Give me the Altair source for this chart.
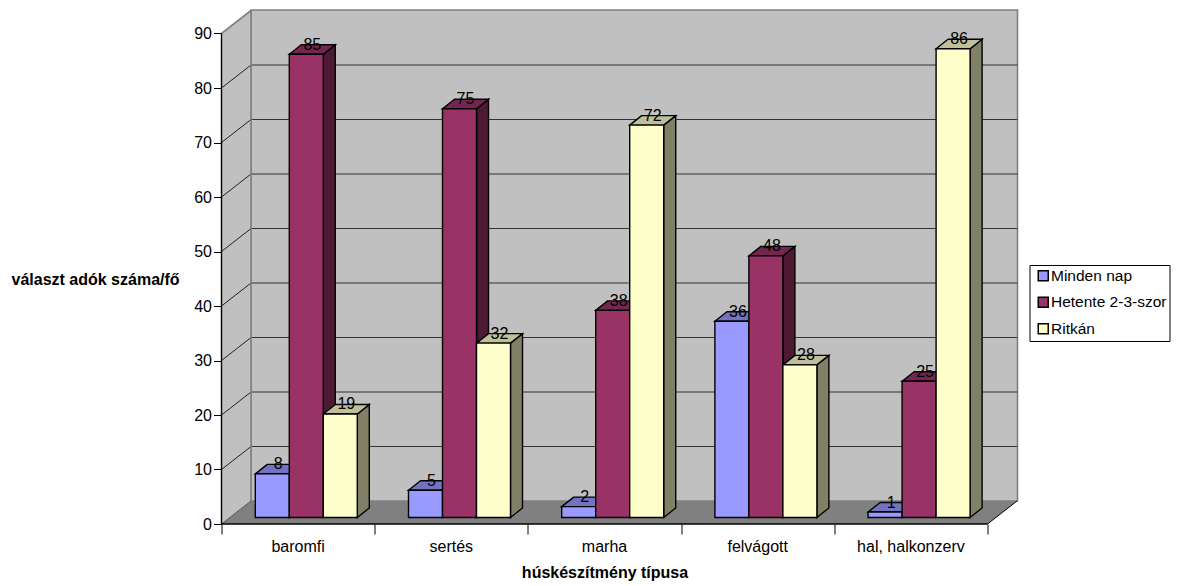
import altair as alt
import pandas as pd

categories = ["baromfi", "sertés", "marha", "felvágott", "hal, halkonzerv"]
series = ["Minden nap", "Hetente 2-3-szor", "Ritkán"]
minden_nap = [8, 5, 2, 36, 1]
hetente = [85, 75, 38, 48, 25]
ritkan = [19, 32, 72, 28, 86]
y_ticks = [0, 10, 20, 30, 40, 50, 60, 70, 80, 90]
front_colors = ["#9999FF", "#993366", "#FFFFCC"]
top_colors = ["#7373BF", "#732650", "#BFBF99"]
side_colors = ["#4D4D80", "#4D1A33", "#808066"]

W, H = 796, 514
PX_Y = 5.45           # pixels per value unit
PX_X = 153.2          # pixels per category
XMAX = W / PX_X
YMAX = H / PX_Y
WALL_DX = 29.5 / PX_X
WALL_DY = 23 / PX_Y
BAR_DX = 12 / PX_X
BAR_DY = 9.5 / PX_Y
BASE_DX = 8.2 / PX_X
BASE_DY = 6.5 / PX_Y
BAR_W = 34 / PX_X
GAP = (1 - 3 * BAR_W) / 2

xs = alt.Scale(domain=[0, XMAX], nice=False, zero=False)
ys = alt.Scale(domain=[0, YMAX], nice=False, zero=False)
X = lambda f="x": alt.X(f"{f}:Q", scale=xs, axis=None)
Y = lambda f="y": alt.Y(f"{f}:Q", scale=ys, axis=None)

fronts, sides, tops, labels = [], [], [], []
bid = 0
for s, (name, vals) in enumerate(zip(series, [minden_nap, hetente, ritkan])):
    for c, v in enumerate(vals):
        x0 = c + BASE_DX + GAP + s * BAR_W
        x1 = x0 + BAR_W
        y0 = BASE_DY
        y1 = BASE_DY + v
        fronts.append(dict(x=x0, x2=x1, y=y0, y2=y1, series=name))
        sides.append(dict(b=bid, x=x1, y=y0, y2=y1, fill=side_colors[s]))
        sides.append(dict(b=bid, x=x1 + BAR_DX, y=y0 + BAR_DY, y2=y1 + BAR_DY, fill=side_colors[s]))
        tops.append(dict(b=bid, y=y1, x=x0, x2=x1, fill=top_colors[s]))
        tops.append(dict(b=bid, y=y1 + BAR_DY, x=x0 + BAR_DX, x2=x1 + BAR_DX, fill=top_colors[s]))
        labels.append(dict(x=x0 + BAR_W / 2 + BAR_DX / 2, y=y1 + BAR_DY, t=str(v)))
        bid += 1

# Walls and floor
back_wall = alt.Chart(pd.DataFrame([dict(x=WALL_DX, x2=XMAX, y=WALL_DY, y2=YMAX)])).mark_rect(
    fill="#C0C0C0", stroke="#808080", strokeWidth=1.6
).encode(x=X(), x2="x2:Q", y=Y(), y2="y2:Q")

left_wall = alt.Chart(pd.DataFrame([
    dict(x=0, y=0, y2=90), dict(x=WALL_DX, y=WALL_DY, y2=90 + WALL_DY)
])).mark_area(fill="#C0C0C0").encode(x=X(), y=Y(), y2="y2:Q")

floor = alt.Chart(pd.DataFrame([
    dict(y=0, x=0, x2=5), dict(y=WALL_DY, x=WALL_DX, x2=5 + WALL_DX)
])).mark_area(orient="horizontal", fill="#808080").encode(y=Y(), x=X(), x2="x2:Q")

grid_back = alt.Chart(pd.DataFrame([
    dict(x=WALL_DX, x2=XMAX, y=v + WALL_DY) for v in y_ticks[1:-1]
])).mark_rule(color="#333333", strokeWidth=1).encode(x=X(), x2="x2:Q", y=Y())

diag_rows = []
for v in y_ticks[1:-1]:
    diag_rows += [dict(v=v, x=0, y=v), dict(v=v, x=WALL_DX, y=v + WALL_DY)]
grid_left = alt.Chart(pd.DataFrame(diag_rows)).mark_line(color="#222222", strokeWidth=1).encode(
    x=X(), y=Y(), detail="v:N")

top_edge = alt.Chart(pd.DataFrame([dict(x=0, y=90), dict(x=WALL_DX, y=90 + WALL_DY)])).mark_line(
    color="#808080", strokeWidth=1.6).encode(x=X(), y=Y())
left_edge = alt.Chart(pd.DataFrame([
    dict(x=WALL_DX, y=WALL_DY, y2=90 + WALL_DY)
])).mark_rule(color="#808080", strokeWidth=1.6).encode(x=X(), y=Y(), y2="y2:Q")
floor_edge = alt.Chart(pd.DataFrame([dict(x=5, y=0), dict(x=5 + WALL_DX, y=WALL_DY)])).mark_line(
    color="#000000", strokeWidth=1).encode(x=X(), y=Y())
floor_edge_l = alt.Chart(pd.DataFrame([dict(x=0, y=0), dict(x=WALL_DX, y=WALL_DY)])).mark_line(
    color="#555555", strokeWidth=1).encode(x=X(), y=Y())

# Bars
side_faces = alt.Chart(pd.DataFrame(sides)).mark_area(stroke="#000000", strokeWidth=1.4).encode(
    x=X(), y=Y(), y2="y2:Q", detail="b:N", fill=alt.Fill("fill:N", scale=None))
top_faces = alt.Chart(pd.DataFrame(tops)).mark_area(orient="horizontal", stroke="#000000", strokeWidth=1.4).encode(
    y=Y(), x=X(), x2="x2:Q", detail="b:N", fill=alt.Fill("fill:N", scale=None))
front_faces = alt.Chart(pd.DataFrame(fronts)).mark_rect(stroke="#000000", strokeWidth=1.4).encode(
    x=X(), x2="x2:Q", y=Y(), y2="y2:Q",
    color=alt.Color("series:N", scale=alt.Scale(domain=series, range=front_colors),
                    legend=alt.Legend(
                        title=None, orient="none", legendX=808, legendY=255,
                        strokeColor="#000000", fillColor="#FFFFFF", padding=3,
                        symbolType="square", symbolSize=100, symbolStrokeColor="#000000",
                        symbolStrokeWidth=1.5, symbolOffset=3, labelFont="Liberation Sans",
                        labelFontSize=15.5, labelColor="#000000", labelOffset=0, rowPadding=8.5,
                        labelLimit=200,
                    )))

value_text = alt.Chart(pd.DataFrame(labels)).mark_text(
    font="Liberation Sans", fontSize=16, color="#000000", baseline="middle"
).encode(x=X(), y=Y(), text="t:N")

# Axes
axis_host = alt.Chart(pd.DataFrame([dict(x=0, y=0)])).mark_point(opacity=0).encode(
    x=alt.X("x:Q", scale=xs, axis=alt.Axis(
        values=list(range(6)), labels=False, grid=False, domain=False, tickSize=10,
        tickColor="#000000", title="húskészítmény típusa", titleFont="Liberation Sans",
        titleFontSize=16, titleFontWeight="bold", titleColor="#000000",
        titleX=383, titleY=48.5, titleAlign="center", titleBaseline="middle")),
    y=alt.Y("y:Q", scale=ys, axis=alt.Axis(
        values=y_ticks, grid=False, domain=False, tickSize=8, tickColor="#000000",
        labelFont="Liberation Sans", labelFontSize=16, labelColor="#000000", labelPadding=2,
        title="választ adók száma/fő", titleFont="Liberation Sans", titleFontSize=16,
        titleFontWeight="bold", titleColor="#000000", titleAngle=0, titleAlign="left",
        titleBaseline="middle", titleX=-210.5, titleY=269)),
)
x_line = alt.Chart(pd.DataFrame([dict(x=0, x2=5, y=0)])).mark_rule(color="#000000", strokeWidth=1.4).encode(
    x=X(), x2="x2:Q", y=Y())
y_line = alt.Chart(pd.DataFrame([dict(x=0, y=0, y2=90)])).mark_rule(color="#000000", strokeWidth=1.4).encode(
    x=X(), y=Y(), y2="y2:Q")
cat_text = alt.Chart(pd.DataFrame([dict(x=i + 0.5, t=c) for i, c in enumerate(categories)])).mark_text(
    font="Liberation Sans", fontSize=16, color="#000000", baseline="middle"
).encode(x=X(), y=alt.value(H + 23), text="t:N")

chart = alt.layer(
    axis_host, back_wall, left_wall, floor, grid_back, grid_left, top_edge, left_edge,
    floor_edge, floor_edge_l, side_faces, top_faces, front_faces, x_line, y_line,
    value_text, cat_text,
).resolve_axis(x="independent", y="independent").properties(
    width=W, height=H, autosize="none", background="#FFFFFF",
    padding={"left": 213.5, "top": 2, "right": 154.5, "bottom": 60},
).configure_view(stroke=None)

chart.save("out.html", embed_options={"renderer": "svg", "actions": False})
